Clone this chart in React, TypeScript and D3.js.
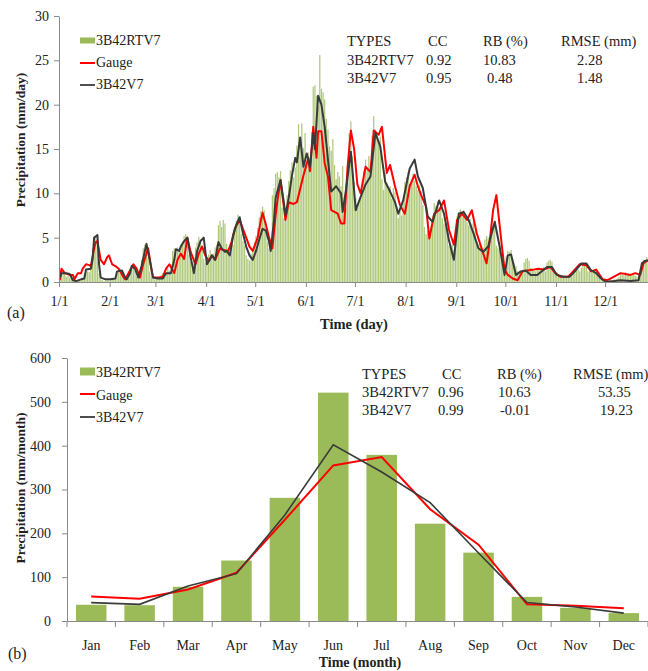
import { useEffect, useRef } from "react";
import * as d3 from "d3";

// ---- panel (a): daily series ----
const monthStarts = [0, 31, 59, 90, 120, 151, 181, 212, 243, 273, 304, 334];
const dayTickLabels = ["1/1", "2/1", "3/1", "4/1", "5/1", "6/1", "7/1", "8/1", "9/1", "10/1", "11/1", "12/1"];

// 3B42RTV7 daily (mm/day), Jan..Dec
const rtDaily = [
  0.8, 1.2, 1.0, 0.9, 0.6, 0.7, 0.5, 0.4, 0.2, 0.1, 0.1, 0.2, 0.3, 0.2, 0.4, 1.0, 1.3, 1.2, 1.1, 1.4, 3.8, 5.2, 5.0, 4.4, 1.0, 0.3, 0.2, 0.1, 0.2, 0.3, 0.2,
  0.2, 0.3, 0.4, 0.5, 1.0, 1.3, 1.4, 1.2, 1.0, 0.4, 0.3, 0.4, 1.5, 1.9, 1.7, 1.3, 0.6, 0.4, 0.8, 2.5, 3.8, 4.2, 3.9, 2.8, 1.2, 0.6, 0.4, 0.3,
  0.4, 0.5, 0.6, 0.8, 1.0, 1.2, 1.1, 1.5, 1.3, 2.0, 3.5, 3.8, 3.2, 3.9, 3.6, 4.2, 4.6, 5.2, 5.4, 4.8, 3.1, 2.3, 1.4, 2.8, 3.9, 4.5, 5.1, 4.8, 3.6, 2.6, 2.2,
  2.8, 3.1, 3.6, 2.9, 3.2, 3.9, 4.2, 6.4, 6.9, 6.2, 7.0, 6.6, 4.3, 3.8, 3.5, 3.9, 4.2, 5.8, 6.9, 7.6, 6.8, 5.4, 4.6, 4.1, 3.0, 2.6, 2.4, 3.2, 3.7, 4.5,
  5.2, 6.1, 7.3, 8.0, 8.5, 8.1, 6.2, 4.5, 3.8, 4.2, 9.8, 10.6, 12.2, 12.4, 11.8, 12.5, 8.4, 7.2, 7.9, 9.8, 11.4, 12.6, 13.5, 11.8, 12.9, 15.4, 17.8, 16.2, 17.9, 15.1, 16.8,
  13.2, 14.6, 12.8, 16.9, 22.0, 22.2, 21.0, 19.8, 25.6, 21.8, 21.4, 20.6, 18.4, 17.2, 15.3, 14.8, 16.1, 13.2, 11.6, 12.4, 11.9, 10.8, 13.1, 9.2, 8.3, 12.4, 16.8, 18.1, 14.2, 11.3,
  9.5, 8.4, 8.9, 9.6, 10.2, 12.6, 13.8, 12.9, 14.2, 13.5, 16.5, 18.7, 17.2, 16.8, 15.9, 16.4, 11.6, 10.4, 12.3, 11.2, 10.5, 10.8, 9.4, 10.6, 10.1, 8.6, 7.2, 8.1, 7.5, 9.0, 11.3,
  11.8, 12.4, 11.1, 11.6, 12.2, 11.4, 10.8, 10.4, 10.9, 10.2, 8.7, 6.2, 5.4, 5.8, 5.1, 6.3, 7.5, 8.9, 8.6, 9.1, 8.4, 8.8, 7.2, 6.6, 6.8, 5.9, 4.1, 3.8, 4.2, 3.6, 6.1,
  7.4, 7.9, 8.2, 7.6, 8.1, 7.3, 6.8, 6.4, 7.1, 6.6, 6.9, 5.8, 4.6, 4.2, 4.4, 3.6, 3.9, 4.8, 5.2, 5.0, 4.6, 5.4, 6.3, 6.9, 4.1, 3.8, 3.6, 2.9, 2.1, 1.5,
  2.9, 3.5, 3.4, 3.6, 2.6, 2.1, 1.8, 1.2, 0.9, 1.0, 1.4, 2.2, 2.6, 2.7, 2.4, 1.6, 1.5, 1.3, 1.2, 1.6, 1.4, 1.5, 1.3, 1.7, 1.2, 2.2, 2.4, 2.5, 2.3, 1.2, 1.0,
  1.1, 0.9, 0.8, 0.7, 0.6, 0.5, 0.6, 0.7, 0.5, 0.6, 1.1, 1.3, 1.5, 1.4, 1.2, 1.6, 2.1, 2.0, 1.8, 1.2, 1.3, 1.4, 1.1, 1.3, 1.2, 0.8, 0.7, 0.3, 0.2, 0.2,
  0.1, 0.2, 0.2, 0.3, 0.2, 0.3, 0.2, 0.4, 0.6, 0.9, 1.0, 0.8, 1.1, 0.9, 0.8, 0.7, 0.9, 0.8, 0.7, 0.6, 0.8, 1.5, 2.2, 2.5, 2.4, 2.8, 2.1, 1.8, 1.9, 2.2, 2.0,
];

// gauge daily, [day of year, mm/day]
const gaugeDaily: [number, number][] = [
  [0, 0.2], [1, 1.5], [3, 1.0], [6, 0.8], [8, 0.8], [9, 0.3], [11, 1.0], [13, 1.0], [14, 1.5], [16, 2.0], [18, 1.9], [19, 1.8], [21, 3.8], [22, 4.5], [23, 4.6],
  [25, 2.5], [27, 2.0], [29, 2.8], [30, 3.0], [32, 2.0], [34, 1.8], [36, 1.5], [37, 1.2], [39, 0.5], [40, 0.3], [42, 1.0], [45, 2.0], [47, 1.5], [49, 0.5],
  [51, 2.0], [54, 3.8], [56, 1.5], [57, 0.5], [61, 0.5], [63, 0.6], [65, 1.5], [67, 2.0], [70, 1.0], [72, 2.5], [74, 3.2], [76, 2.6], [78, 5.0], [80, 3.4],
  [83, 2.0], [85, 3.2], [87, 4.0], [89, 3.0], [91, 2.4], [93, 3.0], [95, 2.5], [98, 3.8], [100, 3.6], [103, 3.5], [105, 4.5], [107, 6.0], [110, 7.0], [112, 6.0],
  [114, 5.0], [116, 4.0], [118, 3.5], [120, 4.5], [121, 5.0], [123, 7.0], [124, 7.8], [126, 6.5], [128, 5.0], [130, 3.8], [132, 7.5], [133, 9.0], [135, 11.5],
  [137, 8.5], [138, 7.0], [140, 9.0], [143, 8.8], [145, 9.0], [147, 10.5], [149, 12.0], [152, 14.0], [153, 12.5], [155, 17.5], [157, 14.0], [158, 17.0],
  [160, 17.0], [162, 13.4], [164, 11.9], [166, 8.1], [168, 7.9], [170, 7.7], [172, 6.6], [174, 6.6], [176, 13.0], [178, 17.1], [180, 15.0], [182, 11.0],
  [184, 10.0], [187, 13.0], [190, 12.4], [192, 17.1], [195, 16.6], [197, 17.5], [200, 12.3], [202, 13.2], [205, 10.8], [208, 8.7], [211, 7.7], [214, 10.8],
  [217, 12.1], [219, 10.8], [221, 9.8], [224, 8.5], [226, 4.9], [229, 7.7], [232, 8.1], [235, 9.2], [238, 5.9], [241, 4.2], [243, 7.0], [246, 7.7], [249, 7.0],
  [252, 8.1], [255, 5.5], [259, 3.2], [261, 2.1], [263, 4.7], [265, 8.1], [267, 9.8], [270, 4.7], [272, 1.4], [274, 0.8], [277, 0.4], [280, 0.2], [283, 1.2],
  [286, 1.3], [290, 1.4], [293, 1.5], [296, 1.4], [300, 1.7], [303, 1.0], [306, 0.6], [311, 0.6], [314, 1.2], [318, 2.0], [322, 1.9], [325, 1.2], [328, 1.4],
  [332, 0.3], [335, 0.2], [339, 0.6], [343, 1.0], [346, 0.9], [349, 0.8], [352, 1.0], [355, 0.8], [357, 2.1], [359, 2.4], [364, 2.4],
];

// 3B42V7 daily, [day of year, mm/day]
const v7Daily: [number, number][] = [
  [0, 0.5], [1, 1.0], [4, 1.0], [6, 0.9], [8, 0.2], [10, 0.1], [13, 0.3], [15, 0.4], [16, 1.4], [19, 1.5], [20, 2.5], [21, 5.0], [23, 5.3], [24, 2.0], [25, 0.5],
  [28, 0.3], [31, 0.3], [34, 0.4], [35, 1.2], [38, 1.3], [40, 0.5], [41, 0.3], [43, 1.0], [44, 1.8], [46, 1.5], [48, 0.5], [50, 1.8], [53, 4.3], [55, 2.5],
  [57, 0.5], [60, 0.4], [63, 0.4], [65, 1.0], [68, 1.0], [70, 2.5], [71, 3.7], [73, 3.5], [74, 4.0], [76, 4.6], [78, 5.0], [80, 2.8], [82, 1.0], [84, 3.5],
  [86, 4.6], [88, 5.0], [90, 2.0], [92, 2.6], [93, 3.0], [95, 2.5], [97, 4.5], [99, 3.8], [101, 3.4], [102, 3.5], [104, 3.0], [106, 5.2], [108, 6.5], [110, 7.3],
  [112, 5.5], [114, 4.0], [116, 3.0], [118, 2.5], [120, 3.5], [122, 4.8], [124, 6.0], [126, 5.8], [128, 4.5], [129, 3.5], [131, 7.0], [132, 9.5], [135, 11.5],
  [137, 9.0], [138, 7.5], [140, 9.5], [142, 12.0], [144, 14.0], [145, 13.5], [147, 16.3], [149, 13.0], [151, 14.5], [153, 13.0], [155, 16.8], [156, 15.0],
  [158, 21.0], [160, 20.0], [162, 17.5], [164, 13.8], [166, 10.2], [169, 10.8], [172, 10.0], [173, 7.9], [175, 10.4], [178, 14.7], [181, 8.1], [184, 9.6],
  [187, 11.0], [190, 11.9], [193, 16.8], [196, 15.3], [199, 11.3], [202, 10.2], [205, 9.0], [207, 7.7], [210, 9.2], [214, 12.8], [217, 13.8], [219, 11.9],
  [222, 10.6], [225, 7.4], [228, 6.8], [232, 9.2], [235, 7.7], [238, 4.7], [241, 2.5], [244, 7.7], [247, 7.9], [250, 7.0], [253, 5.5], [256, 3.8], [259, 3.4],
  [262, 4.0], [266, 6.8], [269, 4.0], [272, 0.8], [274, 3.0], [276, 3.1], [279, 0.8], [282, 1.2], [285, 1.3], [288, 0.8], [292, 0.8], [298, 1.7], [301, 1.7],
  [304, 0.8], [308, 0.6], [312, 0.6], [315, 1.2], [319, 2.1], [322, 2.1], [325, 1.3], [328, 1.0], [331, 0.4], [334, 0.0], [339, 0.1], [343, 0.2], [349, 0.1],
  [354, 0.2], [356, 2.1], [358, 2.4], [364, 2.5],
];

const statsDaily = [
  ["TYPES", "CC", "RB (%)", "RMSE (mm)"],
  ["3B42RTV7", "0.92", "10.83", "2.28"],
  ["3B42V7", "0.95", "0.48", "1.48"],
];

// ---- panel (b): monthly totals ----
const months = ["Jan", "Feb", "Mar", "Apr", "May", "Jun", "Jul", "Aug", "Sep", "Oct", "Nov", "Dec"];
const rtMonthly = [37, 36, 78, 138, 281, 521, 379, 222, 156, 55, 30, 18];
const gaugeMonthly = [56, 51, 72, 110, 231, 355, 374, 255, 174, 38, 35, 29];
const v7Monthly = [42, 38, 80, 108, 242, 402, 340, 270, 155, 42, 32, 18];

const statsMonthly = [
  ["TYPES", "CC", "RB (%)", "RMSE (mm)"],
  ["3B42RTV7", "0.96", "10.63", "53.35"],
  ["3B42V7", "0.99", "-0.01", "19.23"],
];

const FONT = "'Liberation Serif', 'Times New Roman', serif";
const GREEN = "#9bbb59";
const RED = "#ff0000";
const DARK = "#3a3a3a";
const AXIS = "#8a8a8a";
const TXT = "#222";

export default function App() {
  const svgRef = useRef<SVGSVGElement>(null);

  useEffect(() => {
    const svg = d3.select(svgRef.current);
    svg.selectAll("*").remove();

    const styleAxis = (g: any, size: number) => {
      g.attr("font-family", FONT);
      g.select(".domain").attr("stroke", AXIS);
      g.selectAll(".tick line").attr("stroke", AXIS);
      g.selectAll(".tick text").attr("fill", TXT).attr("font-family", FONT).attr("font-size", size);
    };

    const legend = (g: any, x: number, rows: { type: string; color: string; y: number; h?: number }[]) => {
      rows.forEach((r) => {
        if (r.type === "rect") {
          g.append("rect").attr("x", x).attr("y", r.y - (r.h || 6) / 2).attr("width", 15).attr("height", r.h || 6).attr("fill", r.color);
        } else {
          g.append("line").attr("x1", x).attr("x2", x + 15).attr("y1", r.y).attr("y2", r.y)
            .attr("stroke", r.color).attr("stroke-width", r.color === RED ? 2 : 1.8);
        }
      });
    };

    const table = (g: any, rows: string[][], xs: number[][], ys: number[]) => {
      rows.forEach((row, ri) => {
        row.forEach((cell, ci) => {
          g.append("text").attr("x", xs[ri][ci]).attr("y", ys[ri]).text(cell)
            .attr("font-family", FONT).attr("font-size", 14.5).attr("fill", TXT);
        });
      });
    };

    /* PANEL A */
    const a = svg.append("g");
    const xDay = d3.scaleLinear().domain([0, 365]).range([59, 59 + 365 * 1.635]);
    const yDay = d3.scaleLinear().domain([0, 30]).range([282, 16]);
    const bw = xDay(1) - xDay(0);

    a.append("g").selectAll("rect").data(rtDaily).join("rect")
      .attr("x", (d, i) => xDay(i) + 0.2)
      .attr("width", bw - 0.4)
      .attr("y", (d) => yDay(d))
      .attr("height", (d) => yDay(0) - yDay(d))
      .attr("fill", GREEN)
      .attr("opacity", 0.8);

    const lineA = d3.line<[number, number]>().x((d) => xDay(d[0] + 0.5)).y((d) => yDay(d[1]));
    a.append("path").attr("d", lineA(gaugeDaily)).attr("fill", "none").attr("stroke", RED).attr("stroke-width", 2).attr("stroke-linejoin", "round");
    a.append("path").attr("d", lineA(v7Daily)).attr("fill", "none").attr("stroke", DARK).attr("stroke-width", 2).attr("stroke-linejoin", "round");

    const ayAxis = a.append("g").attr("transform", "translate(59,0)")
      .call(d3.axisLeft(yDay).tickValues(d3.range(0, 31, 5)).tickSize(5).tickPadding(5).tickSizeOuter(0));
    styleAxis(ayAxis, 14);

    const axAxis = a.append("g").attr("transform", "translate(0,282)")
      .call(d3.axisBottom(xDay).tickValues(monthStarts.concat([365])).tickSize(5).tickPadding(9).tickSizeOuter(0)
        .tickFormat((d, i) => dayTickLabels[i] || ""));
    styleAxis(axAxis, 14);

    a.append("text").attr("transform", "translate(20,140) rotate(-90)").attr("text-anchor", "middle")
      .attr("dominant-baseline", "central").attr("font-family", FONT).attr("font-weight", "bold").attr("font-size", 13.5)
      .attr("fill", TXT).text("Precipitation (mm/day)");
    a.append("text").attr("x", 354).attr("y", 329).attr("text-anchor", "middle").attr("font-family", FONT)
      .attr("font-weight", "bold").attr("font-size", 14.5).attr("fill", TXT).text("Time (day)");
    a.append("text").attr("x", 7).attr("y", 318).attr("font-family", FONT).attr("font-size", 16).attr("fill", TXT).text("(a)");

    legend(a, 80, [
      { type: "rect", color: GREEN, y: 40.5, h: 6 },
      { type: "line", color: RED, y: 63 },
      { type: "line", color: DARK, y: 85 },
    ]);
    ["3B42RTV7", "Gauge", "3B42V7"].forEach((t, i) => {
      a.append("text").attr("x", 96).attr("y", 45 + i * 22).attr("font-family", FONT).attr("font-size", 14).attr("fill", TXT).text(t);
    });
    table(a, statsDaily, [[347, 428, 483, 561], [347, 426, 483, 577], [347, 426, 487, 577]], [46, 65, 83]);

    /* PANEL B */
    const b = svg.append("g");
    const xMon = d3.scaleBand().domain(months).range([67, 648]).paddingInner(0.37).paddingOuter(0.185);
    const xBand = d3.scaleBand().domain(months).range([67, 648]);
    const yMon = d3.scaleLinear().domain([0, 600]).range([621, 358]);

    b.append("g").selectAll("rect").data(rtMonthly).join("rect")
      .attr("x", (d, i) => xMon(months[i]) as number)
      .attr("width", xMon.bandwidth())
      .attr("y", (d) => yMon(d))
      .attr("height", (d) => yMon(0) - yMon(d))
      .attr("fill", GREEN);

    const lineB = d3.line<number>().x((d, i) => (xBand(months[i]) as number) + xBand.bandwidth() / 2).y((d) => yMon(d));
    b.append("path").attr("d", lineB(gaugeMonthly)).attr("fill", "none").attr("stroke", RED).attr("stroke-width", 2);
    b.append("path").attr("d", lineB(v7Monthly)).attr("fill", "none").attr("stroke", DARK).attr("stroke-width", 1.6);

    const byAxis = b.append("g").attr("transform", "translate(67,0)")
      .call(d3.axisLeft(yMon).tickValues(d3.range(0, 601, 100)).tickSize(5).tickPadding(11).tickSizeOuter(0));
    styleAxis(byAxis, 14);

    const bxAxis = b.append("g").attr("transform", "translate(0,621)").call(d3.axisBottom(xBand).tickSize(0).tickPadding(19));
    styleAxis(bxAxis, 14);
    const bounds = d3.range(0, 13).map((i) => 67 + i * xBand.step());
    b.append("g").selectAll("line").data(bounds).join("line")
      .attr("x1", (d) => d).attr("x2", (d) => d).attr("y1", 621).attr("y2", 627).attr("stroke", AXIS);

    b.append("text").attr("transform", "translate(20,488) rotate(-90)").attr("text-anchor", "middle")
      .attr("dominant-baseline", "central").attr("font-family", FONT).attr("font-weight", "bold").attr("font-size", 13.5)
      .attr("fill", TXT).text("Precipitation (mm/month)");
    b.append("text").attr("x", 360).attr("y", 667).attr("text-anchor", "middle").attr("font-family", FONT)
      .attr("font-weight", "bold").attr("font-size", 14).attr("fill", TXT).text("Time (month)");
    b.append("text").attr("x", 8).attr("y", 659).attr("font-family", FONT).attr("font-size", 16).attr("fill", TXT).text("(b)");

    legend(b, 80, [
      { type: "rect", color: GREEN, y: 371.5, h: 8 },
      { type: "line", color: RED, y: 394 },
      { type: "line", color: DARK, y: 417 },
    ]);
    ["3B42RTV7", "Gauge", "3B42V7"].forEach((t, i) => {
      b.append("text").attr("x", 96).attr("y", 377 + i * 22.5).attr("font-family", FONT).attr("font-size", 14).attr("fill", TXT).text(t);
    });
    table(b, statsMonthly, [[362, 442, 497, 573], [362, 438, 498, 598], [362, 438, 500, 600]], [379, 397, 415]);
  }, []);

  return (
    <svg ref={svgRef} width={648} height={671}
      style={{ position: "absolute", left: 0, top: 0, background: "#fff", display: "block" }} />
  );
}
